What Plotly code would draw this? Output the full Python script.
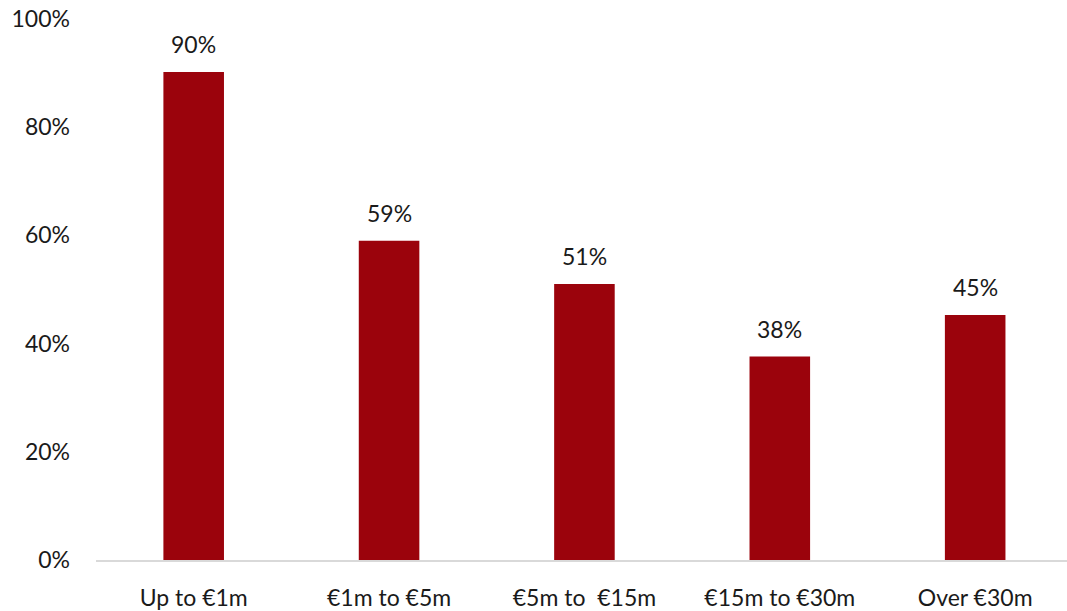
import plotly.graph_objects as go

categories = ["Up to €1m", "€1m to €5m", "€5m to  €15m", "€15m to €30m", "Over €30m"]
values = [90.2, 59.0, 51.0, 37.6, 45.3]
labels = ["90%", "59%", "51%", "38%", "45%"]
y_ticks = [0, 20, 40, 60, 80, 100]
y_ticktext = ["0%", "20%", "40%", "60%", "80%", "100%"]

FONT = "Lato"
TXT = "#1a1a1a"
BAR = "#9b030c"
FS = 23

fig = go.Figure()
fig.add_trace(go.Bar(
    x=list(range(len(categories))),
    y=values,
    marker=dict(color=BAR, line=dict(width=0)),
    width=0.31,
    hoverinfo="skip",
))

for i, (v, t) in enumerate(zip(values, labels)):
    fig.add_annotation(x=i, y=v, text=t, showarrow=False, yanchor="bottom",
                       yshift=12, font=dict(family=FONT, size=FS, color=TXT))

fig.update_layout(
    width=1067, height=611,
    margin=dict(l=96, r=0, t=19, b=51),
    paper_bgcolor="white", plot_bgcolor="white",
    showlegend=False,
    font=dict(family=FONT, size=FS, color=TXT),
    xaxis=dict(
        tickmode="array", tickvals=list(range(len(categories))), ticktext=categories,
        range=[-0.5, 4.47], showgrid=False, zeroline=False,
        showline=True, linecolor="#d9d9d9", linewidth=2,
        ticks="", ticklabelstandoff=16,
    ),
    yaxis=dict(
        range=[0, 100], tickvals=y_ticks, ticktext=y_ticktext,
        showgrid=False, zeroline=False, showline=False,
        ticks="", ticklabelstandoff=25,
    ),
)

fig.write_html(
    "out.html",
    config={"displayModeBar": False, "staticPlot": True},
    post_script="document.body.style.margin='0';document.body.style.overflow='hidden';",
)
